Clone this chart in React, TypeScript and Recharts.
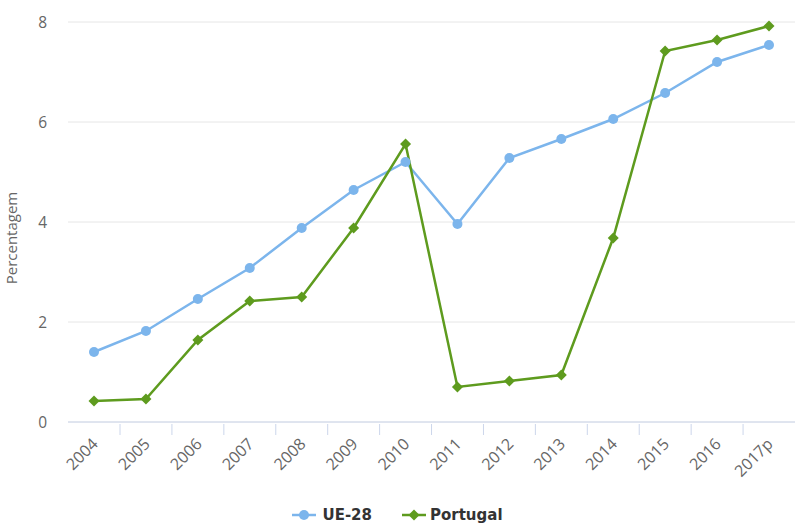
import React from 'react';
import { LineChart, Line, XAxis, YAxis, CartesianGrid, Legend } from 'recharts';

// dados
const years = ['2004', '2005', '2006', '2007', '2008', '2009', '2010', '2011', '2012', '2013', '2014', '2015', '2016', '2017p'];
const ue28 = [1.4, 1.82, 2.46, 3.08, 3.88, 4.64, 5.2, 3.96, 5.28, 5.66, 6.06, 6.58, 7.2, 7.54];
const portugal = [0.42, 0.46, 1.64, 2.42, 2.5, 3.88, 5.56, 0.7, 0.82, 0.94, 3.68, 7.42, 7.64, 7.92];
const yTicks = [0, 2, 4, 6, 8];

const BLUE = '#7cb5ec';
const GREEN = '#5e9b1e';
const FONT = '"Open Sans", sans-serif';
const HALF_STEP = 26;

const data = years.map((year, i) => ({ year, ue28: ue28[i], portugal: portugal[i] }));

const XTick = (props: any) => {
  const { x, y, payload, index } = props;
  return (
    <g>
      {index < years.length - 1 && (
        <line x1={x + HALF_STEP} x2={x + HALF_STEP} y1={y} y2={y + 11} stroke="#ccd6eb" strokeWidth={1} />
      )}
      <text
        x={x + 5}
        y={y + 21}
        transform={`rotate(-45, ${x + 5}, ${y + 21})`}
        textAnchor="end"
        fill="#666"
        fontSize={16}
        fontFamily={FONT}
      >
        {payload.value}
      </text>
    </g>
  );
};

const Diamond = (props: any) => {
  const { cx, cy } = props;
  if (cx == null || cy == null) return null;
  const r = 5.5;
  return <polygon points={`${cx},${cy - r} ${cx + r},${cy} ${cx},${cy + r} ${cx - r},${cy}`} fill={GREEN} />;
};

const LegendContent = () => (
  <div style={{ display: 'flex', justifyContent: 'center', gap: 30, fontFamily: '"DejaVu Sans", sans-serif', fontWeight: 700, fontSize: 15, color: '#333', lineHeight: '18px' }}>
    <span style={{ display: 'flex', alignItems: 'center', gap: 6 }}>
      <svg width={24} height={12}>
        <line x1={0} x2={24} y1={6} y2={6} stroke={BLUE} strokeWidth={2.5} />
        <circle cx={12} cy={6} r={5} fill={BLUE} />
      </svg>
      UE-28
    </span>
    <span style={{ display: 'flex', alignItems: 'center', gap: 4 }}>
      <svg width={24} height={12}>
        <line x1={0} x2={24} y1={6} y2={6} stroke={GREEN} strokeWidth={2.5} />
        <polygon points="12,0.5 17.5,6 12,11.5 6.5,6" fill={GREEN} />
      </svg>
      Portugal
    </span>
  </div>
);

export default function App() {
  return (
    <div style={{ position: 'absolute', left: 0, top: 0, width: 795, height: 526, background: '#fff', overflow: 'hidden' }}>
      <LineChart width={795} height={526} data={data} margin={{ top: 22, right: 0, left: 0, bottom: 0 }}>
        <CartesianGrid horizontal vertical={false} stroke="#e6e6e6" />
        <XAxis
          dataKey="year"
          padding={{ left: HALF_STEP, right: HALF_STEP }}
          axisLine={{ stroke: '#ccd6eb' }}
          tickLine={false}
          tickSize={0}
          tick={<XTick />}
          interval={0}
          height={84}
        />
        <YAxis
          domain={[0, 8]}
          ticks={yTicks}
          width={68}
          axisLine={false}
          tickLine={false}
          tickSize={0}
          tickMargin={21}
          tick={{ fill: '#666', fontSize: 15.5, fontFamily: FONT }}
          label={{
            content: () => (
              <text x={17} y={238} transform="rotate(-90, 17, 238)" textAnchor="middle" fill="#666" fontSize={15} fontFamily={FONT}>
                Percentagem
              </text>
            ),
          }}
        />
        <Legend verticalAlign="bottom" height={20} content={<LegendContent />} wrapperStyle={{ bottom: 0 }} />
        <Line
          type="linear"
          dataKey="ue28"
          name="UE-28"
          stroke={BLUE}
          strokeWidth={2.5}
          dot={{ r: 5, fill: BLUE, stroke: BLUE, strokeWidth: 0 }}
          activeDot={false}
          isAnimationActive={false}
        />
        <Line
          type="linear"
          dataKey="portugal"
          name="Portugal"
          stroke={GREEN}
          strokeWidth={2.5}
          dot={<Diamond />}
          activeDot={false}
          isAnimationActive={false}
        />
      </LineChart>
    </div>
  );
}
